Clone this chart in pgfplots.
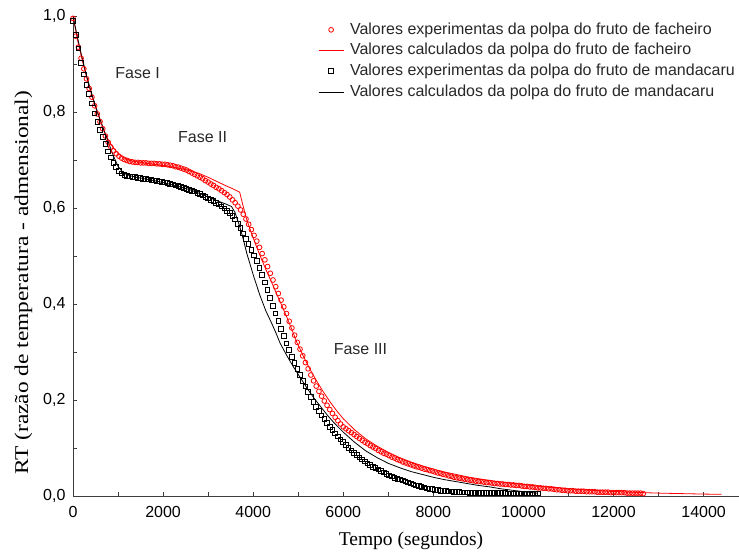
\documentclass[border=0pt]{standalone}
\usepackage{pgfplots}
\pgfplotsset{compat=1.18}
\usepackage{pgfplotstable}
\usepackage{graphicx}
\usepackage{fontspec}
\setmainfont{Liberation Sans}
\newfontfamily\seriffont{Liberation Serif}
\usetikzlibrary{calc}

\definecolor{axisgray}{RGB}{60,60,60}
\definecolor{textgray}{RGB}{40,40,40}

\pgfplotsset{
  linelegend/.style={legend image code/.code={\draw[##1] (0pt,0pt) -- (25pt,0pt);}},
  marklegend/.style={legend image code/.code={\draw[##1] plot coordinates {(12.5pt,0pt)};}},
}

% Facheiro pulp: experimental temperature ratio (every 60 s)
\pgfplotstableread{
t y
0 0.995
60 0.958
120 0.935
180 0.912
240 0.890
300 0.869
360 0.849
420 0.831
480 0.813
540 0.796
600 0.780
660 0.765
720 0.750
780 0.737
840 0.727
900 0.719
960 0.713
1020 0.708
1080 0.704
1140 0.701
1200 0.699
1260 0.697
1320 0.696
1380 0.695
1440 0.695
1500 0.694
1560 0.694
1620 0.694
1680 0.693
1740 0.693
1800 0.693
1860 0.692
1920 0.692
1980 0.691
2040 0.691
2100 0.690
2160 0.689
2220 0.688
2280 0.686
2340 0.685
2400 0.683
2460 0.681
2520 0.679
2580 0.676
2640 0.673
2700 0.670
2760 0.667
2820 0.664
2880 0.661
2940 0.657
3000 0.654
3060 0.650
3120 0.647
3180 0.643
3240 0.640
3300 0.636
3360 0.632
3420 0.628
3480 0.623
3540 0.617
3600 0.611
3660 0.604
3720 0.596
3780 0.587
3840 0.577
3900 0.566
3960 0.555
4020 0.543
4080 0.531
4140 0.518
4200 0.505
4260 0.492
4320 0.478
4380 0.464
4440 0.450
4500 0.436
4560 0.422
4620 0.408
4680 0.394
4740 0.380
4800 0.364
4860 0.350
4920 0.335
4980 0.320
5040 0.306
5100 0.292
5160 0.278
5220 0.265
5280 0.252
5340 0.240
5400 0.229
5460 0.218
5520 0.208
5580 0.198
5640 0.189
5700 0.180
5760 0.172
5820 0.164
5880 0.157
5940 0.150
6000 0.144
6060 0.140
6120 0.136
6180 0.132
6240 0.128
6300 0.124
6360 0.120
6420 0.116
6480 0.112
6540 0.109
6600 0.105
6660 0.102
6720 0.099
6780 0.095
6840 0.092
6900 0.089
6960 0.087
7020 0.084
7080 0.081
7140 0.079
7200 0.076
7260 0.074
7320 0.071
7380 0.069
7440 0.067
7500 0.065
7560 0.063
7620 0.061
7680 0.060
7740 0.058
7800 0.056
7860 0.055
7920 0.053
7980 0.052
8040 0.050
8100 0.048
8160 0.047
8220 0.045
8280 0.044
8340 0.042
8400 0.041
8460 0.039
8520 0.038
8580 0.037
8640 0.036
8700 0.035
8760 0.034
8820 0.033
8880 0.032
8940 0.031
9000 0.030
9060 0.030
9120 0.029
9180 0.028
9240 0.028
9300 0.027
9360 0.026
9420 0.026
9480 0.025
9540 0.025
9600 0.024
9660 0.024
9720 0.023
9780 0.023
9840 0.022
9900 0.022
9960 0.021
10020 0.020
10080 0.020
10140 0.019
10200 0.019
10260 0.018
10320 0.017
10380 0.017
10440 0.016
10500 0.016
10560 0.015
10620 0.015
10680 0.014
10740 0.013
10800 0.013
10860 0.012
10920 0.012
10980 0.011
11040 0.011
11100 0.011
11160 0.010
11220 0.010
11280 0.010
11340 0.010
11400 0.009
11460 0.009
11520 0.009
11580 0.009
11640 0.008
11700 0.008
11760 0.008
11820 0.008
11880 0.008
11940 0.007
12000 0.007
12060 0.007
12120 0.007
12180 0.007
12240 0.007
12300 0.006
12360 0.006
12420 0.006
12480 0.006
12540 0.006
12600 0.006
12660 0.005
}\facheiroexp

% Facheiro pulp: calculated curve
\pgfplotstableread{
t y
0 1.000
100 0.950
200 0.910
300 0.873
400 0.840
500 0.810
600 0.783
700 0.758
800 0.739
900 0.725
1000 0.714
1100 0.706
1200 0.701
1300 0.698
1500 0.695
1800 0.691
2100 0.687
2400 0.682
2600 0.678
2800 0.672
3000 0.664
3200 0.655
3400 0.646
3550 0.640
3700 0.633
3780 0.603
3860 0.575
3960 0.548
4080 0.518
4200 0.490
4300 0.468
4420 0.443
4520 0.421
4640 0.396
4740 0.374
4860 0.347
4960 0.322
5100 0.294
5250 0.266
5400 0.241
5550 0.218
5700 0.197
5850 0.178
6000 0.161
6250 0.138
6500 0.119
6750 0.104
7000 0.091
7250 0.080
7500 0.071
7750 0.063
8000 0.056
8250 0.050
8500 0.045
8750 0.040
9000 0.036
9500 0.029
10000 0.024
10500 0.019
11000 0.015
11500 0.012
12000 0.0095
12500 0.0075
13000 0.006
13500 0.005
14000 0.004
14400 0.0035
}\facheirocalc

% Mandacaru pulp: experimental temperature ratio (every 60 s)
\pgfplotstableread{
t y
0 0.990
60 0.960
120 0.932
180 0.902
240 0.878
300 0.856
360 0.837
420 0.818
480 0.797
540 0.779
600 0.763
660 0.748
720 0.733
780 0.718
840 0.705
900 0.694
960 0.685
1020 0.677
1080 0.672
1140 0.669
1200 0.667
1260 0.666
1320 0.665
1380 0.664
1440 0.663
1500 0.662
1560 0.661
1620 0.660
1680 0.659
1740 0.658
1800 0.657
1860 0.656
1920 0.655
1980 0.654
2040 0.653
2100 0.652
2160 0.650
2220 0.649
2280 0.647
2340 0.646
2400 0.644
2460 0.642
2520 0.640
2580 0.638
2640 0.636
2700 0.634
2760 0.631
2820 0.629
2880 0.626
2940 0.623
3000 0.620
3060 0.617
3120 0.614
3180 0.610
3240 0.607
3300 0.603
3360 0.599
3420 0.594
3480 0.589
3540 0.583
3600 0.576
3660 0.567
3720 0.558
3780 0.547
3840 0.536
3900 0.525
3960 0.513
4020 0.501
4080 0.489
4140 0.475
4200 0.460
4260 0.445
4320 0.429
4380 0.412
4440 0.396
4500 0.380
4560 0.364
4620 0.348
4680 0.333
4740 0.318
4800 0.304
4860 0.290
4920 0.277
4980 0.264
5040 0.252
5100 0.240
5160 0.228
5220 0.217
5280 0.206
5340 0.196
5400 0.186
5460 0.177
5520 0.168
5580 0.160
5640 0.152
5700 0.144
5760 0.137
5820 0.130
5880 0.124
5940 0.118
6000 0.112
6060 0.106
6120 0.100
6180 0.095
6240 0.090
6300 0.085
6360 0.080
6420 0.076
6480 0.072
6540 0.068
6600 0.064
6660 0.061
6720 0.058
6780 0.055
6840 0.052
6900 0.049
6960 0.046
7020 0.043
7080 0.041
7140 0.038
7200 0.036
7260 0.034
7320 0.032
7380 0.030
7440 0.028
7500 0.026
7560 0.024
7620 0.022
7680 0.021
7740 0.019
7800 0.018
7860 0.016
7920 0.015
7980 0.014
8040 0.013
8100 0.012
8160 0.011
8220 0.010
8280 0.010
8340 0.009
8400 0.009
8460 0.008
8520 0.008
8580 0.008
8640 0.007
8700 0.007
8760 0.007
8820 0.006
8880 0.006
8940 0.006
9000 0.006
9060 0.006
9120 0.006
9180 0.006
9240 0.006
9300 0.006
9360 0.006
9420 0.006
9480 0.006
9540 0.006
9600 0.006
9660 0.005
9720 0.005
9780 0.005
9840 0.005
9900 0.005
9960 0.005
10020 0.005
10080 0.005
10140 0.005
10200 0.005
10260 0.005
10320 0.005
}\mandacaruexp

% Mandacaru pulp: calculated curve
\pgfplotstableread{
t y
0 1.000
100 0.955
200 0.914
300 0.876
400 0.843
500 0.812
600 0.785
700 0.759
800 0.733
900 0.708
1000 0.687
1100 0.675
1200 0.669
1400 0.664
1700 0.659
2000 0.653
2300 0.646
2600 0.638
2900 0.627
3200 0.615
3400 0.608
3520 0.603
3600 0.590
3700 0.562
3780 0.535
3860 0.505
3940 0.480
4020 0.455
4150 0.418
4280 0.386
4400 0.362
4500 0.341
4600 0.318
4750 0.292
4900 0.268
5050 0.246
5200 0.224
5350 0.204
5500 0.186
5650 0.168
5800 0.152
6000 0.133
6250 0.112
6500 0.094
6750 0.080
7000 0.068
7250 0.059
7500 0.051
7750 0.045
8000 0.039
8250 0.034
8500 0.030
8750 0.026
9000 0.022
9250 0.019
9500 0.015
9750 0.012
10000 0.009
10300 0.006
}\mandacarucalc

\begin{document}
\begin{tikzpicture}
\begin{axis}[
  name=ax,
  scale only axis,
  width=668pt, height=480pt,
  xmin=0, xmax=14830,
  ymin=0, ymax=1,
  clip=false,
  axis x line*=bottom,
  axis y line*=left,
  axis line style={-, draw=axisgray, line width=0.9pt},
  tick align=inside,
  major tick length=4pt,
  minor tick length=4pt,
  every tick/.style={draw=axisgray, line width=0.8pt},
  xtick={0,2000,4000,6000,8000,10000,12000,14000},
  minor xtick={1000,3000,5000,7000,9000,11000,13000},
  ytick={0,0.2,0.4,0.6,0.8,1},
  minor ytick={0.1,0.3,0.5,0.7,0.9},
  scaled x ticks=false,
  scaled y ticks=false,
  /pgf/number format/assume math mode=true,
  ticklabel style={font=\fontsize{16}{18}\selectfont, text=black},
  xticklabel style={yshift=-7pt, /pgf/number format/fixed, /pgf/number format/precision=0, /pgf/number format/1000 sep={}},
  yticklabel style={xshift=-4pt, /pgf/number format/fixed, /pgf/number format/fixed zerofill, /pgf/number format/precision=1, /pgf/number format/use comma},
  every axis x label/.style={at={(axis description cs:0.506,-0.094)}, anchor=center},
  every axis y label/.style={at={(axis description cs:-0.0741,0.444)}, anchor=center, rotate=90},
  xlabel={\seriffont\fontsize{19.5}{22}\selectfont Tempo (segundos)},
  ylabel={\scalebox{1.2}[1]{\seriffont\fontsize{19.5}{22}\selectfont RT (razão de temperatura - admensional)}},
  legend cell align=left,
  legend style={
    at={(rel axis cs:0.3623,0.994)}, anchor=north west,
    draw=none, fill=none,
    font=\fontsize{16}{19}\selectfont,
    text=textgray,
    row sep=3.2pt,
    column sep=5pt,
    nodes={inner sep=1pt, text height=12pt, text depth=3.5pt},
  },
]
\addplot[only marks, mark=o, color=red, mark size=2.4pt, line width=0.8pt, marklegend]
  table[x=t, y=y] {\facheiroexp};
\addlegendentry{Valores experimentas da polpa do fruto de facheiro}
\addplot[red, line width=0.8pt, mark=none, linelegend]
  table[x=t, y=y] {\facheirocalc};
\addlegendentry{Valores calculados da polpa do fruto de facheiro}
\addplot[only marks, mark=square, color=black, mark size=2.3pt, line width=1pt, marklegend]
  table[x=t, y=y] {\mandacaruexp};
\addlegendentry{Valores experimentas da polpa do fruto de mandacaru}
\addplot[black, line width=0.8pt, mark=none, linelegend]
  table[x=t, y=y] {\mandacarucalc};
\addlegendentry{Valores calculados da polpa do fruto de mandacaru}

\node[text=textgray, font=\fontsize{16}{19}\selectfont] at (axis cs:1434,0.881) {Fase I};
\node[text=textgray, font=\fontsize{16}{19}\selectfont] at (axis cs:2877,0.748) {Fase II};
\node[text=textgray, font=\fontsize{16}{19}\selectfont] at (axis cs:6382,0.306) {Fase III};
\end{axis}
\pgfresetboundingbox
\path ($(ax.south west)+(-73pt,-58pt)$) rectangle ($(ax.north east)+(-2pt,16pt)$);
\end{tikzpicture}
\end{document}
